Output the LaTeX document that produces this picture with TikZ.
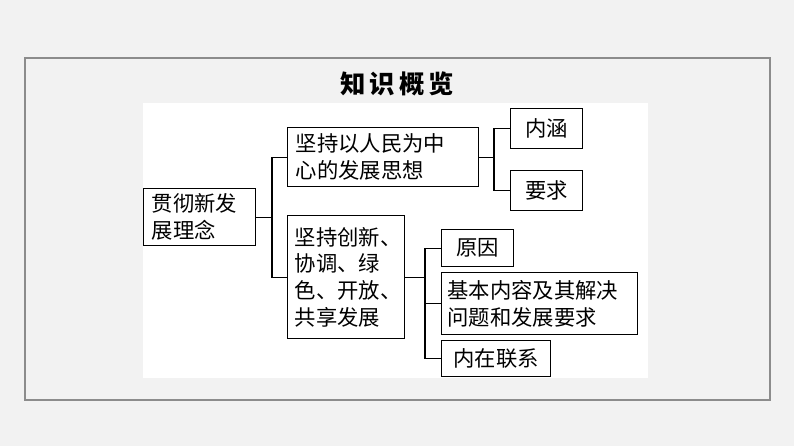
\documentclass[tikz,border=0pt]{standalone}
\usepackage{fontspec}
\newfontfamily\cjk{Noto Sans CJK SC}
\definecolor{bggray}{HTML}{F2F2F2}
\definecolor{framegray}{HTML}{8C8C8C}
\begin{document}
\begin{tikzpicture}[x=0.75pt,y=-0.75pt,
  box/.style={draw,line width=1pt,anchor=north west,inner sep=0pt,align=left,font=\cjk\fontsize{16}{20}\selectfont},
  link/.style={line width=1pt}]
\fill[bggray] (0,0) rectangle (794,446);
\draw[framegray,line width=1.5pt,fill=bggray] (25,58) rectangle (770,400);
\fill[white] (143,103) rectangle (648,378);
\node (title) at (397,84) {\cjk\bfseries\fontsize{19}{22}\selectfont 知\,识\,概\,览};

\node[box,minimum width=112pt*0.75,minimum height=57pt*0.75,text width=104pt*0.75] (root) at (143,188) {\hspace*{3pt}贯彻新发\\\hspace*{3pt}展理念};
\node[box,minimum width=191pt*0.75,minimum height=59pt*0.75,text width=183pt*0.75] (people) at (287,127) {\hspace*{3pt}坚持以人民为中\\\hspace*{3pt}心的发展思想};
\node[box,minimum width=72pt*0.75,minimum height=40pt*0.75,align=center] (neihan) at (510,108) {内涵};
\node[box,minimum width=72pt*0.75,minimum height=40pt*0.75,align=center] (yaoqiu) at (510,170) {要求};
\node[box,minimum width=117pt*0.75,minimum height=123pt*0.75,text width=111pt*0.75] (five) at (287,215) {\hspace*{3pt}坚持创新、\\\hspace*{3pt}协调、绿\\\hspace*{3pt}色、开放、\\\hspace*{3pt}共享发展};
\node[box,minimum width=72pt*0.75,minimum height=37pt*0.75,align=center] (yuanyin) at (441,229) {原因};
\node[box,minimum width=196pt*0.75,minimum height=62pt*0.75,text width=190pt*0.75] (basic) at (441,272) {\hspace*{2pt}基本内容及其解决\\\hspace*{2pt}问题和发展要求};
\node[box,minimum width=109pt*0.75,minimum height=36pt*0.75,align=center] (lianxi) at (441,340) {内在联系};

\coordinate (j1) at (272,0);
\coordinate (j2) at (494,0);
\coordinate (j3) at (425,0);
\draw[link] (root.east) -- (root.east -| j1);
\draw[link] (people.west) -| (j1 |- five.west) -- (five.west);
\draw[link] (people.east) -- (people.east -| j2);
\draw[link] (neihan.west) -| (j2 |- yaoqiu.west) -- (yaoqiu.west);
\draw[link] (five.east) -- (five.east -| j3);
\draw[link] (yuanyin.west) -| (j3 |- lianxi.west) -- (lianxi.west);
\draw[link] (basic.west) -- (basic.west -| j3);
\end{tikzpicture}
\end{document}
